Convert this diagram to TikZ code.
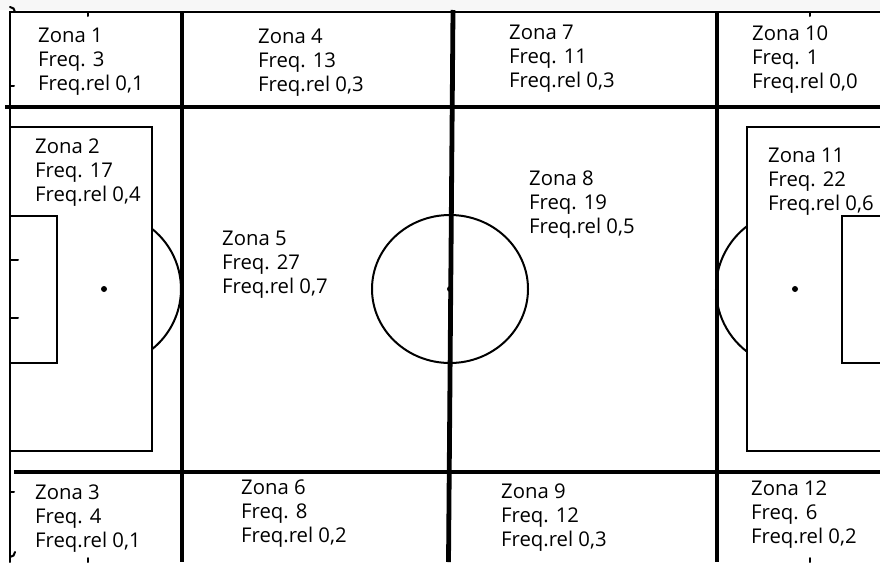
\documentclass[tikz,border=0pt]{standalone}
\usepackage{fontspec}
\setmainfont{Open Sans}
\usetikzlibrary{positioning}

\begin{document}
\begin{tikzpicture}[x=1pt, y=-1pt,
        zona/.style={anchor=west, align=left, inner sep=0pt, text=black,
                     font=\fontsize{20.3}{24}\selectfont},
        pitch/.style={line width=2pt, line cap=round},
        zoneline/.style={line width=4.8pt},
        spot/.style={circle, fill, inner sep=0pt, minimum size=6pt},
    ]
    \useasboundingbox (0,0) rectangle (880,562);
    \clip (0,0) rectangle (880,562);
    \fill[gray!6] (0,0) rectangle (880,10);

    % Pitch outline and markings
    \draw[pitch] (880,12) -- (10,12) -- (10,562);
    \draw[pitch] (15,12) arc[start angle=0, end angle=-90, radius=5];
    \draw[pitch] (10,557) arc[start angle=90, end angle=0, radius=5];
    \draw[pitch] (88,12) -- (88,16);
    \draw[pitch] (810,12) -- (810,16);
    \draw[pitch] (88,558) -- (88,562);
    \draw[pitch] (810,558) -- (810,562);
    \draw[pitch] (10,86) -- (14,86);
    \draw[pitch] (10,492) -- (14,492);

    % Left area
    \node[spot] (spotL) at (104,289) {};
    \draw[pitch] (10,127) rectangle (152,451);
    \draw[pitch] (10,216) rectangle (57,363);
    \draw[pitch] (10,260) -- (18,260);
    \draw[pitch] (10,318) -- (18,318);
    \draw[pitch] (152,228.8) arc[start angle=-51.44, end angle=51.44, radius=77];

    % Right area
    \node[spot] (spotR) at (795,289) {};
    \draw[pitch] (890,127) -- (747,127) -- (747,451) -- (890,451);
    \draw[pitch] (890,216) -- (842,216) -- (842,363) -- (890,363);
    \draw[pitch] (747,351.7) arc[start angle=127.4, end angle=232.6, radius=79];

    % Centre circle
    \node[spot] (kickoff) at (450,289) {};
    \draw[pitch] (kickoff) ellipse[x radius=78, y radius=74];

    % Zone grid
    \draw[zoneline] (5,107) -- (880,107);
    \draw[zoneline] (14,472) -- (880,472);
    \draw[zoneline] (182,12) -- (182,562);
    \draw[zoneline] (453,10) -- (448.5,562);
    \draw[zoneline] (717,12) -- (717,562);

    % Zone labels
    \node[zona] (z1) at (38,61.5) {Zona 1\\Freq. 3\\Freq.rel 0,1};
    \node[zona] (z2) at (35,172.5) {Zona 2\\Freq. 17\\Freq.rel 0,4};
    \node[zona] (z3) at (35,518.5) {Zona 3\\Freq. 4\\Freq.rel 0,1};
    \node[zona] (z4) at (258,62.5) {Zona 4\\Freq. 13\\Freq.rel 0,3};
    \node[zona] (z5) at (222,264.5) {Zona 5\\Freq. 27\\Freq.rel 0,7};
    \node[zona] (z6) at (241,513.5) {Zona 6\\Freq. 8\\Freq.rel 0,2};
    \node[zona] (z7) at (509,58.5) {Zona 7\\Freq. 11\\Freq.rel 0,3};
    \node[zona] (z8) at (529,204.5) {Zona 8\\Freq. 19\\Freq.rel 0,5};
    \node[zona] (z9) at (501,517.5) {Zona 9\\Freq. 12\\Freq.rel 0,3};
    \node[zona] (z10) at (752,59.5) {Zona 10\\Freq. 1\\Freq.rel 0,0};
    \node[zona] (z11) at (768,181.5) {Zona 11\\Freq. 22\\Freq.rel 0,6};
    \node[zona] (z12) at (751,514.5) {Zona 12\\Freq. 6\\Freq.rel 0,2};
\end{tikzpicture}
\end{document}
